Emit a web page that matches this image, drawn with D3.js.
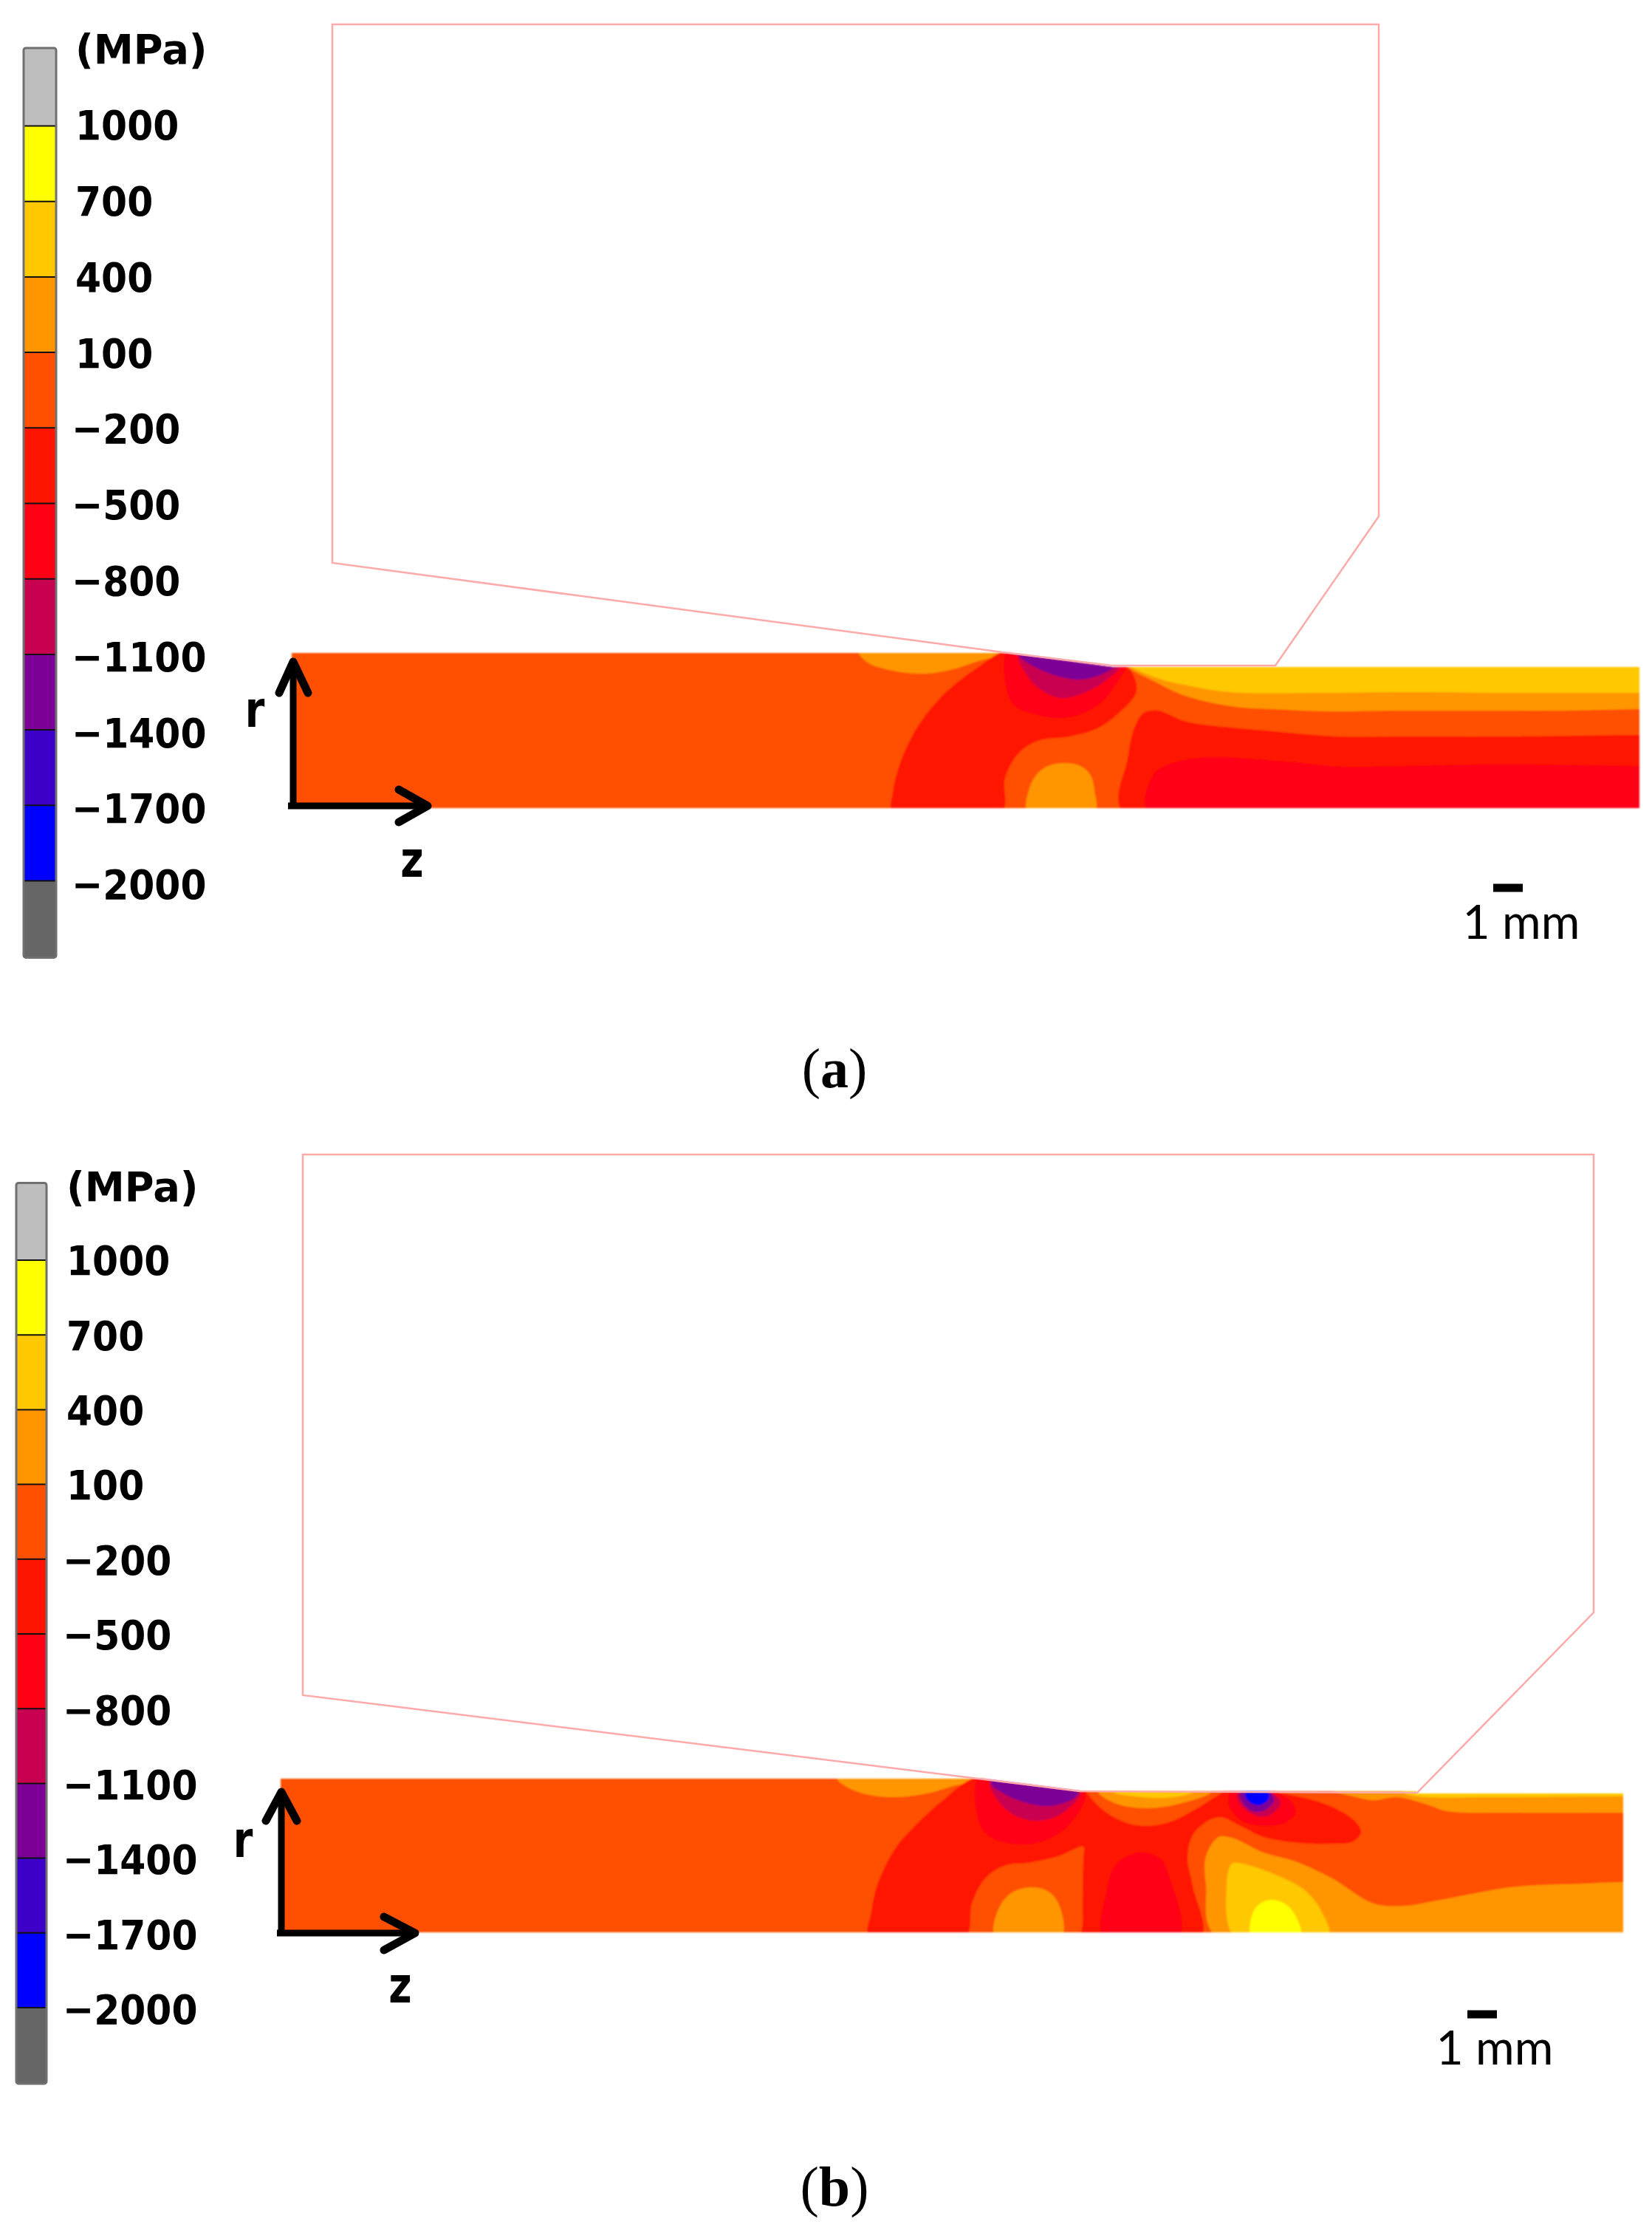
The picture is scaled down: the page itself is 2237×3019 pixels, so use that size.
<!DOCTYPE html>
<html>
<head>
<meta charset="utf-8">
<script src="https://cdn.jsdelivr.net/npm/d3@7"></script>
<style>
html, body { margin: 0; padding: 0; background: #fff; }
svg { display: block; }
</style>
</head>
<body>
<svg id="chart" width="2237" height="3019"></svg>
<script>
// stress legend (MPa)
const tickValues = [1000, 700, 400, 100, -200, -500, -800, -1100, -1400, -1700, -2000];
const bandEdges = [1310, 1000, 700, 400, 100, -200, -500, -800, -1100, -1400, -1700, -2000, -2305];
const bandColors = ["#bebebe", "#ffff00", "#ffc800", "#ff9600", "#ff5000", "#ff1400", "#ff0014", "#c80050", "#7d0096", "#3c00c8", "#0000ff", "#666666"];

// everything below is [z, r] in mm
// panel (a)
const aWorkpiece = [[0, 5.25], [24.25, 5.25], [27.775, 4.775], [45.625, 4.775], [45.625, 0], [0, 0]];
const aTool = [[1.375, 26.525], [36.8, 26.525], [36.8, 9.875], [33.3, 4.825], [27.775, 4.825], [24.25, 5.25], [1.375, 8.3]];
const aCap = [[19.2, 5.3], [19.5, 4.925], [20.35, 4.65], [21.4, 4.55], [22.3, 4.675], [23.25, 4.975], [24.15, 5.225], [21.7, 5.5]];
const aMainRed = [[20.35, -0.15], [20.35, 0.525], [20.625, 1.6], [21.25, 2.85], [22.15, 3.925], [23.25, 4.775], [24.25, 5.35], [26.15, 5.225], [28.225, 4.85], [28.6, 3.975], [27.95, 3.175], [27.225, 2.675], [26.325, 2.425], [25.25, 2.275], [24.6, 1.85], [24.15, 1.025], [24.025, -0.15]];
const aCrimson = [[24.25, 5.35], [24.25, 3.85], [24.525, 3.425], [25.25, 3.15], [25.975, 3.05], [26.7, 3.175], [27.425, 3.6], [27.95, 4.275], [28.225, 4.85], [26.15, 5.6]];
const aRose = [[24.6, 5.225], [24.875, 4.525], [25.325, 4.025], [26.05, 3.725], [26.875, 3.925], [27.6, 4.35], [28.05, 4.85], [26.15, 5.6]];
const aPurple = [[24.6, 5.225], [25.425, 4.65], [26.7, 4.35], [27.675, 4.65], [27.875, 4.85], [26.15, 5.6]];
const aIsland = [[24.925, -0.15], [24.975, 0.675], [25.25, 1.175], [25.6, 1.425], [26.15, 1.525], [26.7, 1.425], [27.05, 1.1], [27.175, 0.6], [27.175, -0.15]];
const aRightRed = [[28.15, -0.15], [28.3, 1.675], [28.55, 2.775], [28.85, 3.225], [29.325, 3.3], [30.125, 2.975], [30.675, 2.85], [33.225, 2.6], [35.375, 2.425], [37.55, 2.425], [41.175, 2.425], [45.625, 2.475], [46.125, 2.475], [46.125, -0.15]];
const aRightCrimson = [[29, -0.15], [29.15, 1.1], [29.55, 1.425], [30.5, 1.675], [31.4, 1.725], [33.925, 1.55], [35.575, 1.4], [37.55, 1.425], [41.175, 1.475], [45.625, 1.425], [46.125, 1.425], [46.125, -0.15]];
const aUpperOrange = [[28.225, 4.9], [29.225, 4.275], [30.325, 3.775], [31.95, 3.425], [33.225, 3.35], [35.025, 3.275], [37.55, 3.3], [40.275, 3.3], [43, 3.3], [45.625, 3.35], [46.125, 3.35], [46.125, 5.35], [37.6, 5.35]];
const aUpperGold = [[28.325, 4.9], [29.225, 4.425], [30.325, 4.15], [31.775, 3.925], [35.025, 3.9], [37.55, 3.925], [41.175, 3.9], [45.625, 3.9], [46.125, 3.9], [46.125, 5.35], [37.6, 5.35]];

// panel (b)
const bWorkpiece = [[0, 5.2], [23.675, 5.2], [27.05, 4.775], [38.45, 4.775], [38.45, 4.7], [45.45, 4.7], [45.45, 0], [0, 0]];
const bTool = [[0.75, 26.325], [44.45, 26.325], [44.45, 10.825], [38.475, 4.725], [27.05, 4.775], [23.625, 5.2], [0.75, 8.025]];
const bCap = [[18.85, 5.2], [19.2, 4.9], [19.925, 4.65], [20.9, 4.575], [21.875, 4.7], [22.775, 4.95], [23.575, 5.15], [21, 5.5]];
const bMainRed = [[19.925, -0.15], [20, 0.7], [20.15, 1.45], [20.45, 2.2], [20.85, 2.9], [21.35, 3.475], [22.425, 4.475], [23.65, 5.275], [27.225, 4.95], [27.3, 4.725], [27.925, 4.075], [28.65, 3.7], [29.275, 3.6], [30.075, 3.725], [30.95, 4.15], [31.75, 4.65], [32.2, 4.9], [34.175, 4.65], [35.4, 4.325], [36.3, 3.825], [36.575, 3.4], [36.3, 3.075], [35.575, 3], [34.525, 3.025], [33.275, 3.225], [32.55, 3.575], [31.75, 3.9], [30.95, 3.4], [30.7, 2.575], [30.875, 1.575], [31.15, -0.15], [27.15, -0.15], [27.15, 0.3], [27.15, 1.4], [27.175, 2.5], [27.175, 2.9], [26.325, 2.575], [25.275, 2.35], [24.55, 2.275], [23.85, 1.825], [23.4, 0.975], [23.175, -0.15]];
const bCrimson = [[23.65, 5.3], [23.65, 3.725], [24.025, 3.225], [25.075, 2.975], [25.975, 3.15], [26.7, 3.65], [27.225, 4.7], [25.5, 5.6]];
const bRose = [[24.025, 5.1], [24.275, 4.475], [24.825, 3.975], [25.525, 3.775], [26.325, 3.95], [26.95, 4.475], [27.075, 4.725], [25.5, 5.6]];
const bPurple = [[24.025, 5.1], [24.65, 4.6], [25.975, 4.275], [26.875, 4.55], [27, 4.775], [25.5, 5.6]];
const bMidOrange = [[27.675, 4.775], [28.3, 4.35], [29.35, 4.2], [30.425, 4.35], [31.5, 4.75], [29.5, 5.1]];
const bMidGold = [[28.2, 4.75], [29.175, 4.575], [30.25, 4.575], [30.875, 4.75], [29.5, 5.1]];
const bDentCrimson = [[32.125, 4.7], [32.125, 4.225], [32.55, 3.775], [33.275, 3.6], [33.975, 3.7], [34.35, 4.025], [34.25, 4.4], [33.725, 4.725], [33, 5.2]];
const bDentRose = [[32.375, 4.7], [32.475, 4.35], [33, 3.95], [33.45, 3.95], [33.85, 4.35], [33.8, 4.525], [33.55, 4.725], [33, 5.2]];
const bDentPurple = [[32.475, 4.7], [32.65, 4.275], [33, 4.075], [33.35, 4.15], [33.625, 4.45], [33.55, 4.7], [33, 5]];
const bDentBlue = [[32.65, 4.7], [32.75, 4.45], [33.1, 4.3], [33.425, 4.475], [33.45, 4.7], [33, 5]];
const bIsland = [[24.2, -0.15], [24.275, 0.725], [24.725, 1.325], [25.45, 1.525], [26.075, 1.325], [26.425, 0.725], [26.425, -0.15]];
const bCentreCrimson = [[27.85, -0.15], [27.925, 1.225], [28.3, 2.325], [29.1, 2.7], [29.8, 2.475], [30.075, 1.9], [30.425, -0.15]];
const bLowerOrange = [[31.675, -0.15], [31.325, 1.575], [31.325, 2.575], [31.75, 3.225], [32.2, 3.2], [33.275, 2.7], [34.35, 2.4], [35.6, 1.825], [37, 0.975], [38.075, 0.9], [39.15, 1.075], [41.65, 1.525], [44.125, 1.65], [45.425, 1.7], [46.25, 1.7], [46.25, -0.15]];
const bLowerGold = [[32.3, -0.15], [32.025, 1.575], [32.2, 2.325], [32.55, 2.325], [33.8, 1.9], [34.7, 1.4], [35.225, 0.725], [35.475, -0.15]];
const bLowerYellow = [[32.875, -0.15], [33, 0.825], [33.55, 1.1], [34.175, 0.825], [34.525, -0.15]];
const bUpperOrange = [[35.6, 4.8], [36.3, 4.6], [37, 4.475], [37.8, 4.575], [38.8, 4.325], [39.5, 4.1], [41.65, 4.05], [45.425, 4.05], [46.25, 4.05], [46.25, 5], [38, 5]];
const bUpperGold = [[38, 4.75], [38.5, 4.6], [41, 4.575], [45.425, 4.6], [46.25, 4.6], [46.25, 5], [38, 5]];

// levels are indexes into bandColors, listed in drawing order
const aContours = [
    [3, aCap], [5, aMainRed], [6, aCrimson], [7, aRose], [8, aPurple], [3, aIsland],
    [5, aRightRed], [6, aRightCrimson], [3, aUpperOrange], [2, aUpperGold]
];
const bContours = [
    [3, bCap], [5, bMainRed], [6, bCrimson], [7, bRose], [8, bPurple], [3, bMidOrange], [2, bMidGold],
    [6, bDentCrimson], [7, bDentRose], [8, bDentPurple], [10, bDentBlue], [3, bIsland],
    [6, bCentreCrimson], [3, bLowerOrange], [2, bLowerGold], [1, bLowerYellow], [3, bUpperOrange], [2, bUpperGold]
];

const svg = d3.select("#chart");

// filter softens the edges the same way the scaled up bitmap does
const defs = svg.append("defs");
defs.append("filter").attr("id", "soft")
    .attr("x", "-2%").attr("y", "-10%").attr("width", "104%").attr("height", "120%")
    .append("feGaussianBlur").attr("stdDeviation", 1);

const panels = [
    {
        id: "a", x0: 395, y0: 1094, workpiece: aWorkpiece, tool: aTool, contours: aContours,
        barX: [32, 76], barY: [170.5, 1192.5], labelX: 102, labelY: [169, 1197], unitY: 66,
        rLabel: [345, 984], zLabel: [558, 1187],
        rArrow: [[[-0.425, 3.9], [0.05, 4.95], [0.55, 3.9]], [[0.05, 4.95], [0.05, 0]]],
        zArrow: [[[3.625, 0.625], [4.6, 0.075], [3.625, -0.475]], [[4.6, 0.075], [-0.125, 0.075]]],
        scaleBar: [[40.675, -2.7], [41.675, -2.7]], scaleText: [2060, 1271],
        caption: [1130, 1472]
    },
    {
        id: "b", x0: 380, y0: 2616, workpiece: bWorkpiece, tool: bTool, contours: bContours,
        barX: [22, 63], barY: [1706, 2718], labelX: 90, labelY: [1706, 2720], unitY: 1606,
        rLabel: [329, 2514], zLabel: [542, 2711],
        rArrow: [[[-0.5, 3.775], [0.025, 4.75], [0.55, 3.775]], [[0.025, 4.75], [0.025, -0.1]]],
        zArrow: [[[3.5, 0.525], [4.55, -0.025], [3.5, -0.6]], [[4.55, -0.025], [-0.125, -0.025]]],
        scaleBar: [[40.175, -2.775], [41.175, -2.775]], scaleText: [2024, 2795],
        caption: [1130, 2986]
    }
];

panels.forEach(drawPanel);

function drawPanel(p) {
    const pxPerMm = 40;
    const z = d3.scaleLinear().domain([0, 1]).range([p.x0, p.x0 + pxPerMm]);
    const r = d3.scaleLinear().domain([0, 1]).range([p.y0, p.y0 - pxPerMm]);
    const g = svg.append("g").attr("class", "panel-" + p.id);

    const straight = d3.line().x(d => z(d[0])).y(d => r(d[1]));
    const smooth = d3.line().x(d => z(d[0])).y(d => r(d[1]))
        .curve(d3.curveCatmullRomClosed.alpha(0.5));

    // contour field, clipped to the workpiece
    defs.append("clipPath").attr("id", "clip-" + p.id)
        .append("path").attr("d", straight(p.workpiece) + "Z");

    const field = g.append("g").attr("filter", "url(#soft)")
        .append("g").attr("clip-path", "url(#clip-" + p.id + ")");

    field.append("path")
        .attr("d", straight(p.workpiece) + "Z")
        .attr("fill", bandColors[4]);

    field.selectAll("path.band")
        .data(p.contours)
        .enter().append("path")
        .attr("class", "band")
        .attr("d", d => smooth(d[1]))
        .attr("fill", d => bandColors[d[0]]);

    // tool outline
    g.append("path")
        .attr("d", straight(p.tool) + "Z")
        .attr("fill", "none")
        .attr("stroke", "#ffaaaa")
        .attr("stroke-width", 2.5);

    // r and z arrows
    [p.rArrow, p.zArrow].forEach(arrow => {
        g.append("path").attr("d", straight(arrow[0]))
            .attr("fill", "none").attr("stroke", "#000").attr("stroke-width", 11)
            .attr("stroke-linecap", "round").attr("stroke-linejoin", "round");
        g.append("path").attr("d", straight(arrow[1]))
            .attr("fill", "none").attr("stroke", "#000").attr("stroke-width", 9);
    });
    axisLetter(g, "r", p.rLabel);
    axisLetter(g, "z", p.zLabel);

    // scale bar
    g.append("path").attr("d", straight(p.scaleBar))
        .attr("stroke", "#000").attr("stroke-width", 11);
    g.append("text")
        .attr("x", p.scaleText[0]).attr("y", p.scaleText[1])
        .attr("text-anchor", "middle")
        .attr("font-family", "Lato")
        .attr("font-size", 64)
        .text("1 mm");

    // caption
    const cap = g.append("text")
        .attr("x", p.caption[0]).attr("y", p.caption[1])
        .attr("text-anchor", "middle")
        .attr("font-family", "Liberation Serif")
        .attr("font-size", 76);
    cap.append("tspan").text("(");
    cap.append("tspan").attr("font-weight", "bold").text(p.id);
    cap.append("tspan").text(")");

    drawLegend(g, p);
}

function axisLetter(g, s, pos) {
    g.append("text")
        .attr("transform", "translate(" + pos[0] + "," + pos[1] + ") scale(0.9,1.12)")
        .attr("text-anchor", "middle")
        .attr("font-family", "DejaVu Sans")
        .attr("font-weight", "bold")
        .attr("font-size", 60)
        .text(s);
}

function drawLegend(g, p) {
    const y = d3.scaleLinear().domain([1000, -2000]).range(p.barY);
    const labelPos = d3.scaleLinear().domain([1000, -2000]).range(p.labelY);
    const legend = g.append("g").attr("class", "legend");
    const bands = d3.pairs(bandEdges);

    legend.selectAll("rect.band")
        .data(bands)
        .enter().append("rect")
        .attr("class", "band")
        .attr("x", p.barX[0])
        .attr("width", p.barX[1] - p.barX[0])
        .attr("y", d => y(d[0]))
        .attr("height", d => y(d[1]) - y(d[0]))
        .attr("fill", (d, i) => bandColors[i]);

    legend.selectAll("line")
        .data(tickValues)
        .enter().append("line")
        .attr("x1", p.barX[0]).attr("x2", p.barX[1])
        .attr("y1", d => y(d)).attr("y2", d => y(d))
        .attr("stroke", "#111")
        .attr("stroke-width", 2);

    legend.append("rect")
        .attr("x", p.barX[0]).attr("width", p.barX[1] - p.barX[0])
        .attr("y", y(bandEdges[0]))
        .attr("height", y(bandEdges[bandEdges.length - 1]) - y(bandEdges[0]))
        .attr("rx", 3)
        .attr("fill", "none")
        .attr("stroke", "#707070")
        .attr("stroke-width", 3);

    const fmt = d => d < 0 ? "\u2212" + (-d) : String(d);

    // the minus has a wide bearing, pull negative labels left to line them up
    legend.selectAll("text.tick")
        .data(tickValues)
        .enter().append("text")
        .attr("class", "tick")
        .attr("transform", d => "translate(" + (p.labelX - (d < 0 ? 5 : 0)) + "," + labelPos(d) + ") scale(0.9,1)")
        .attr("dy", "0.36em")
        .attr("font-family", "DejaVu Sans")
        .attr("font-weight", "bold")
        .attr("font-size", 56)
        .text(fmt);

    legend.append("text")
        .attr("transform", "translate(" + p.labelX + "," + p.unitY + ") scale(0.97,1)")
        .attr("dy", "0.36em")
        .attr("font-family", "DejaVu Sans")
        .attr("font-weight", "bold")
        .attr("font-size", 56)
        .text("(MPa)");
}
</script>
</body>
</html>
